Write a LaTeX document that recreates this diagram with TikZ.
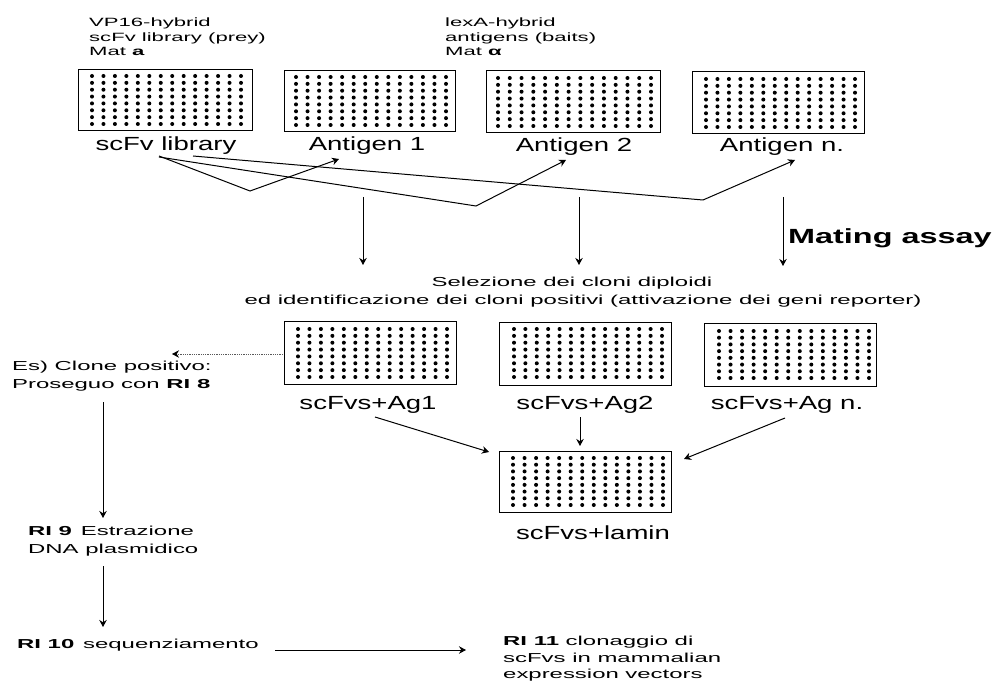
\documentclass[tikz,border=0pt]{standalone}
\usepackage{fontspec}
\setmainfont{Liberation Sans}
\newfontfamily\wide[FakeStretch=1.45]{Liberation Sans}
\newfontfamily\wider[FakeStretch=1.84]{Liberation Sans}
\newfontfamily\matfont[FakeStretch=1.58]{Liberation Sans}
\usetikzlibrary{arrows.meta}
\tikzset{
  plate/.style={draw,line width=1.3pt,fill=white,inner sep=0pt,anchor=north west},
  big/.style={inner sep=0pt,font=\wide\fontsize{19}{19}\selectfont},
  small/.style={inner sep=0pt,align=left,anchor=west,font=\wider\fontsize{12}{14.7}\selectfont},
  mid/.style={inner sep=0pt,align=left,anchor=west,font=\wider\fontsize{13}{18}\selectfont},
  arr/.style={-{Stealth[length=7pt,width=7.5pt]},line width=1pt},
}
% name, x0, y0, x1, y1, first dot x, last dot x, first dot y, last dot y
\newcommand{\platebox}[9]{%
  \node[plate,minimum width=#4pt-#2pt,minimum height=#5pt-#3pt] (#1) at (#2,#3) {};
  \foreach \cc in {0,...,13}{\foreach \rr in {0,...,7}{
    \fill ({#6+(#7-#6)*\cc/13},{#8+(#9-#8)*\rr/7}) circle (2pt);}}%
}
\begin{document}
\begin{tikzpicture}[x=1pt,y=-1pt]
\useasboundingbox (0,0) rectangle (1000,684);
\platebox{p1}{78}{69}{252}{130}{92}{241}{76}{124}
\platebox{p2}{284}{70}{455}{131}{296}{446}{77}{125}
\platebox{p3}{486}{70}{660}{132}{498}{651}{78}{126}
\platebox{p4}{692}{71}{864}{133}{706}{855}{79}{127}
\platebox{q1}{284}{321}{456}{384}{298}{447}{329}{377}
\platebox{q2}{499}{322}{671}{385}{514}{662}{329}{377}
\platebox{q3}{704}{323}{876}{386}{719}{869}{331}{378}
\platebox{q4}{499}{451}{671}{512}{513}{663}{458}{505}

\node[small] (tl) at (89,37) {VP16-hybrid\\scFv library (prey)\\Mat \textbf{a}};
\node[small] (tr) at (445,37) {lexA-hybrid\\antigens (baits)\\Mat \textbf{α}};
\node[big] (l1) at (166,146) {scFv library};
\node[big] (l2) at (367,146) {Antigen 1};
\node[big] (l3) at (574,147) {Antigen 2};
\node[big] (l4) at (782,147) {Antigen n.};
\node[inner sep=0pt,anchor=west,font=\matfont\fontsize{20.5}{21}\selectfont\bfseries] (ma) at (788,238) {Mating assay};
\node[mid,anchor=center] (sel1) at (572,283) {Selezione dei cloni diploidi};
\node[mid,anchor=center] (sel2) at (583,301) {ed identificazione dei cloni positivi (attivazione dei geni reporter)};
\node[big] (s1) at (368,405) {scFvs+Ag1};
\node[big] (s2) at (585,405) {scFvs+Ag2};
\node[big] (s3) at (787,405) {scFvs+Ag n.};
\node[big] (s4) at (593,533) {scFvs+lamin};
\node[mid] (es) at (12,376) {Es) Clone positivo:\\Proseguo con \textbf{RI 8}};
\node[mid] (ri9) at (28,541) {\textbf{RI 9}\, Estrazione\\DNA plasmidico};
\node[mid] (ri10) at (17,645) {\textbf{RI 10}\, sequenziamento};
\node[mid,font=\wider\fontsize{13}{16.5}\selectfont] (ri11) at (503,659) {\textbf{RI 11} clonaggio di\\scFvs in mammalian\\expression vectors};

\coordinate (a0) at (159,156); \coordinate (a1) at (250,191); \coordinate (a2) at (339,159);
\coordinate (b0) at (159,157); \coordinate (b1) at (476,206); \coordinate (b2) at (566,160);
\coordinate (c0) at (193,156); \coordinate (c1) at (703,200); \coordinate (c2) at (795,160);
\coordinate (v1a) at (363,197); \coordinate (v1b) at (363,265);
\coordinate (v2a) at (579,197); \coordinate (v2b) at (579,265);
\coordinate (v3a) at (783,197); \coordinate (v3b) at (783,266);
\coordinate (d0) at (283,354); \coordinate (d1) at (172,354);
\coordinate (e0) at (103,402); \coordinate (e1) at (103,518);
\coordinate (f0) at (103,566); \coordinate (f1) at (103,627);
\coordinate (h0) at (275,650); \coordinate (h1) at (466,650);
\coordinate (g0) at (375,417); \coordinate (g1) at (489,452);
\coordinate (i0) at (580,417); \coordinate (i1) at (580,446);
\coordinate (j0) at (785,418); \coordinate (j1) at (684,459);
\draw[arr] (a0)--(a1)--(a2);
\draw[arr] (b0)--(b1)--(b2);
\draw[arr] (c0)--(c1)--(c2);
\draw[arr] (v1a)--(v1b);
\draw[arr] (v2a)--(v2b);
\draw[arr] (v3a)--(v3b);
\draw[-{Stealth[length=7pt,width=7.5pt,color=black]},line width=.8pt,densely dotted,black!65] (d0)--(d1);
\draw[arr] (e0)--(e1);
\draw[arr] (f0)--(f1);
\draw[arr] (h0)--(h1);
\draw[arr] (g0)--(g1);
\draw[arr] (i0)--(i1);
\draw[arr] (j0)--(j1);
\end{tikzpicture}
\end{document}
